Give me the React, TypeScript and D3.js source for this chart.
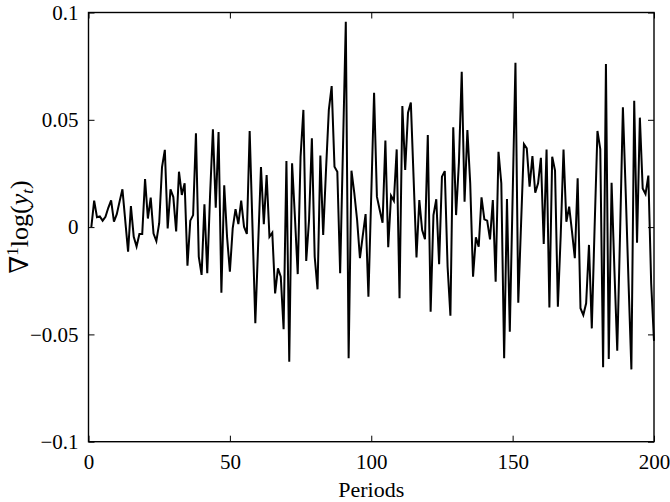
import React, { useEffect, useRef } from 'react'
import * as d3 from 'd3'

// first difference of log output, periods 1..200
const growth = [
  0, 0.0123, 0.0046, 0.005, 0.003, 0.0048, 0.009, 0.0125, 0.0025, 0.006,
  0.012, 0.0176, 0.003, -0.0115, 0.0098, -0.0045, -0.009, -0.0032, -0.0032, 0.0224,
  0.004, 0.0137, -0.003, -0.0065, 0.0018, 0.028, 0.036, -0.0006, 0.0176, 0.014,
  -0.002, 0.0258, 0.015, 0.0204, -0.018, 0.003, 0.0056, 0.0437, -0.0138, -0.0223,
  0.0106, -0.0215, 0.015, 0.0456, 0.009, 0.0443, -0.0306, 0.0195, -0.0045, -0.0208,
  -0.0006, 0.0084, 0.0014, 0.0123, 0.0002, -0.0032, 0.0448, 0.0, -0.0448, -0.008,
  0.028, 0.0013, 0.0243, -0.0045, -0.0026, -0.0309, -0.0192, -0.0231, -0.0476, 0.0308,
  -0.0627, 0.0297, 0.0048, -0.0219, 0.0328, 0.0546, -0.0158, 0.0033, 0.0414, -0.0138,
  -0.029, 0.0333, -0.0037, 0.0266, 0.0546, 0.0657, 0.0281, 0.0258, -0.0215, 0.037,
  0.0957, -0.0611, 0.0263, 0.0159, 0.0033, -0.0145, -0.004, 0.0061, -0.0324, 0.015,
  0.0626, 0.0142, 0.008, 0.002, 0.0403, -0.0094, 0.0146, 0.0123, 0.0362, -0.0332,
  0.0564, 0.0266, 0.0533, 0.058, 0.022, -0.0141, 0.0126, -0.0014, -0.0057, 0.0429,
  -0.0394, 0.0056, 0.013, -0.0173, 0.0235, 0.0261, -0.0185, -0.0413, 0.0465, 0.0056,
  0.03, 0.0724, 0.0118, 0.0452, 0.0204, -0.0231, -0.0048, -0.0091, 0.0139, 0.0036,
  0.003, -0.0057, 0.0126, -0.0254, 0.0351, 0.0204, -0.0611, 0.0131, -0.0487, 0.014,
  0.0766, -0.0352, 0.002, 0.0387, 0.0367, 0.0188, 0.0331, 0.016, 0.0204, 0.0323,
  -0.0079, 0.0362, -0.0374, 0.0328, 0.0263, -0.0371, -0.004, 0.0362, 0.0025, 0.0095,
  -0.0021, -0.0145, 0.0227, -0.0378, -0.041, -0.0355, -0.0083, -0.0472, 0.0002, 0.0448,
  0.0364, -0.0653, 0.076, -0.0615, 0.0207, -0.02, -0.0576, -0.003, 0.0558, 0.016,
  -0.026, -0.0663, 0.0589, -0.0073, 0.051, 0.018, 0.0154, 0.024, -0.0262, -0.053
]
const xTicks = [0, 50, 100, 150, 200]
const yTicks = [-0.1, -0.05, 0, 0.05, 0.1]
const yTickLabels = ['\u22120.1', '\u22120.05', '0', '0.05', '0.1']

const W = 670,
  H = 502
const left = 88.5,
  right = 654,
  top = 12.5,
  bottom = 441.7
const font = "'Liberation Serif', 'DejaVu Serif', serif"

export default function App() {
  const axRef = useRef<SVGGElement>(null)

  const x = d3.scaleLinear().domain([0, 200]).range([left, right])
  const y = d3.scaleLinear().domain([-0.1, 0.1]).range([bottom, top])

  const line = d3
    .line<number>()
    .x((d, i) => x(i + 1))
    .y(d => y(d))

  useEffect(() => {
    const g = d3.select(axRef.current)
    g.selectAll('*').remove()

    // inward ticks on all four sides, labels only bottom/left
    const bx = g
      .append('g')
      .attr('transform', `translate(0,${bottom})`)
      .call(d3.axisBottom(x).tickValues(xTicks).tickSize(-6).tickPadding(12).tickFormat(d3.format('d')))
    const tx = g
      .append('g')
      .attr('transform', `translate(0,${top})`)
      .call(d3.axisTop(x).tickValues(xTicks).tickSize(-6).tickFormat(() => ''))
    const ly = g
      .append('g')
      .attr('transform', `translate(${left},0)`)
      .call(
        d3
          .axisLeft(y)
          .tickValues(yTicks)
          .tickSize(-6)
          .tickPadding(10)
          .tickFormat((d, i) => yTickLabels[i])
      )
    const ry = g
      .append('g')
      .attr('transform', `translate(${right},0)`)
      .call(d3.axisRight(y).tickValues(yTicks).tickSize(-6).tickFormat(() => ''))

    ;[bx, tx, ly, ry].forEach(a => {
      a.select('.domain').remove()
      a.selectAll('line').attr('stroke', '#000').attr('stroke-width', 1)
      a.selectAll('text').attr('fill', '#000').style('font-family', font).style('font-size', '21px')
    })
  }, [])

  return (
    <svg width={W} height={H} style={{ position: 'absolute', left: 0, top: 0, background: '#fff' }}>
      <rect x={0} y={0} width={W} height={H} fill="#fff" />
      <path d={line(growth) || ''} fill="none" stroke="#000" strokeWidth={2} strokeLinejoin="miter" strokeMiterlimit={4} />
      <g ref={axRef} />
      <rect x={left} y={top} width={right - left} height={bottom - top} fill="none" stroke="#000" strokeWidth={1.4} />
      <text x={(left + right) / 2} y={497} textAnchor="middle" style={{ fontFamily: font, fontSize: 22 }}>
        Periods
      </text>
      <text transform={`translate(28,${(top + bottom) / 2}) rotate(-90)`} textAnchor="middle" style={{ fontFamily: font, fontSize: 26 }}>
        {'\u2207'}
        <tspan fontSize={17} dy={-10}>1</tspan>
        <tspan dy={10}>log(</tspan>
        <tspan fontStyle="italic">y</tspan>
        <tspan fontStyle="italic" fontSize={17} dy={5}>t</tspan>
        <tspan dy={-5}>)</tspan>
      </text>
    </svg>
  )
}
